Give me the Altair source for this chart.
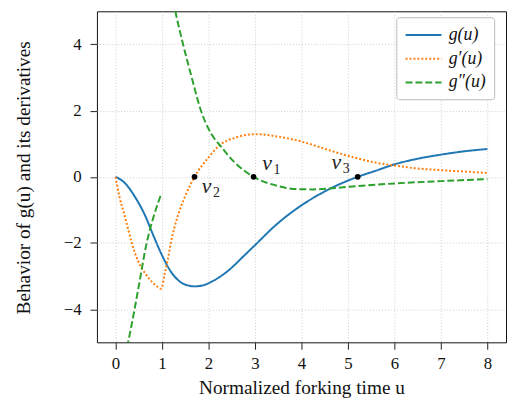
import altair as alt
import pandas as pd

# ---------------- data ----------------
series_names = ["g(u)", "g′(u)", "g″(u)"]
series_colors = ["#1f77b4", "#ff7f0e", "#2ca02c"]
series_dashes = [[1, 0], [2, 2], [7, 3]]

# g(u)
u_g = [0, 0.21, 0.42, 0.64, 0.81, 0.99, 1.17, 1.38, 1.55, 1.70, 1.88, 2.05,
       2.41, 2.76, 3.01, 3.47, 3.96, 4.53, 5.21, 5.59, 6.01, 6.51, 7.0, 7.5, 8.0]
g_vals = [0, -0.20, -0.61, -1.18, -1.76, -2.34, -2.82, -3.16, -3.28, -3.31, -3.28, -3.18,
          -2.85, -2.39, -2.05, -1.43, -0.90, -0.42, 0.0, 0.18, 0.38, 0.55, 0.67, 0.77, 0.84]

# g'(u)
u_d1 = [0, 0.085, 0.18, 0.27, 0.35, 0.48, 0.64, 0.81, 0.90, 0.98, 1.06, 1.12, 1.19,
        1.26, 1.36, 1.49, 1.70, 1.98, 2.26, 2.55, 3.01, 3.47, 3.96, 4.32, 4.74, 5.17,
        5.59, 6.01, 6.44, 7.0, 7.5, 8.0]
d1_vals = [0, -0.61, -1.09, -1.57, -2.0, -2.53, -2.92, -3.21, -3.32, -3.38, -2.92, -2.53, -2.0,
           -1.57, -1.09, -0.61, 0.0, 0.55, 0.98, 1.17, 1.29, 1.22, 1.08, 0.93, 0.74, 0.57,
           0.43, 0.34, 0.26, 0.20, 0.16, 0.115]

# g''(u), two pieces (jump at u = 1)
u_d2a = [0.25, 0.41, 0.50, 0.67, 0.82, 0.98]
d2a_vals = [-5.15, -4.0, -3.3, -2.0, -1.2, -0.53]
u_d2b = [1.20, 1.29, 1.45, 1.63, 1.84, 2.05, 2.26, 2.55, 2.97, 3.47, 3.89, 4.25,
         5.02, 6.01, 7.0, 8.0]
d2b_vals = [5.6, 4.98, 4.02, 3.05, 1.99, 1.32, 0.93, 0.45, 0.0, -0.27, -0.37, -0.38,
            -0.30, -0.20, -0.13, -0.07]

# critical points v1, v2, v3
crit_u = [2.97, 1.70, 5.21]
crit_y = [0.0, 0.0, 0.0]
crit_sub = ["1", "2", "3"]
label_u = [3.26, 1.96, 4.75]
label_y = [0.41, -0.27, 0.45]

x_ticks = [0, 1, 2, 3, 4, 5, 6, 7, 8]
y_ticks = [-4, -2, 0, 2, 4]

# ---------------- tables ----------------
rows = []
for u, v in zip(u_g, g_vals):
    rows.append({"series": series_names[0], "seg": "g", "u": u, "y": v})
for u, v in zip(u_d1, d1_vals):
    rows.append({"series": series_names[1], "seg": "d1", "u": u, "y": v})
for u, v in zip(u_d2a, d2a_vals):
    rows.append({"series": series_names[2], "seg": "d2a", "u": u, "y": v})
for u, v in zip(u_d2b, d2b_vals):
    rows.append({"series": series_names[2], "seg": "d2b", "u": u, "y": v})
lines_df = pd.DataFrame(rows)

pts_df = pd.DataFrame({"u": crit_u, "y": crit_y})
lab_df = pd.DataFrame({"u": label_u, "y": label_y, "v": ["v"] * 3, "sub": crit_sub})

FONT = "Liberation Serif"

xscale = alt.Scale(domain=[-0.4, 8.4], nice=False, zero=False)
yscale = alt.Scale(domain=[-5, 5], nice=False, zero=False)

xaxis = alt.Axis(values=x_ticks, title="Normalized forking time u", format="d",
                 titleX=207, titleY=46, titleBaseline="middle", titleAlign="center")
yaxis = alt.Axis(values=y_ticks, title="Behavior of g(u) and its derivatives", format="d",
                 titleX=-74, titleY=168, titleBaseline="middle", titleAlign="center")


def make_legend():
    return alt.Legend(title=None, orient="none", legendX=303, legendY=6,
                      symbolType="M-1,0H3.2", symbolSize=300, symbolStrokeWidth=2,
                      labelFont=FONT, labelFontSize=18, labelFontStyle="italic",
                      labelColor="#111111", labelOffset=25, rowPadding=5, padding=8,
                      strokeColor="#bbbbbb", fillColor="white", cornerRadius=3)


lines = alt.Chart(lines_df).mark_line(strokeWidth=2, clip=True, interpolate="monotone").encode(
    x=alt.X("u:Q", scale=xscale, axis=xaxis),
    y=alt.Y("y:Q", scale=yscale, axis=yaxis),
    color=alt.Color("series:N", sort=series_names,
                    scale=alt.Scale(domain=series_names, range=series_colors),
                    legend=make_legend()),
    strokeDash=alt.StrokeDash("series:N", sort=series_names,
                              scale=alt.Scale(domain=series_names, range=series_dashes),
                              legend=make_legend()),
    detail="seg:N",
)

points = alt.Chart(pts_df).mark_circle(color="black", opacity=1, size=34).encode(
    x="u:Q", y="y:Q")

vtext = alt.Chart(lab_df).mark_text(font=FONT, fontStyle="italic", fontSize=22,
                                    color="#222222", align="center", baseline="middle").encode(
    x="u:Q", y="y:Q", text="v:N")
subtext = alt.Chart(lab_df).mark_text(font=FONT, fontSize=14, color="#222222",
                                      align="center", baseline="middle", dx=10, dy=7).encode(
    x="u:Q", y="y:Q", text="sub:N")

chart = alt.layer(lines, points, vtext, subtext).properties(
    width=414, height=335,
    autosize=alt.AutoSizeParams(type="none"),
    padding={"left": 90, "top": 1, "right": 1, "bottom": 55},
).configure_axis(
    labelFont=FONT, labelFontSize=17, labelColor="#111111",
    titleFont=FONT, titleFontSize=19.5, titleFontWeight="normal", titleColor="#111111",
    grid=True, gridColor="#c8c8c8", gridDash=[1, 2], gridWidth=0.9,
    tickColor="#222222", tickSize=7, tickWidth=1,
    domain=False, labelPadding=6,
).configure_axisY(labelPadding=9).configure_view(
    stroke="#111111", strokeWidth=1
)

chart.save("out.html", embed_options={"renderer": "svg", "actions": False})
